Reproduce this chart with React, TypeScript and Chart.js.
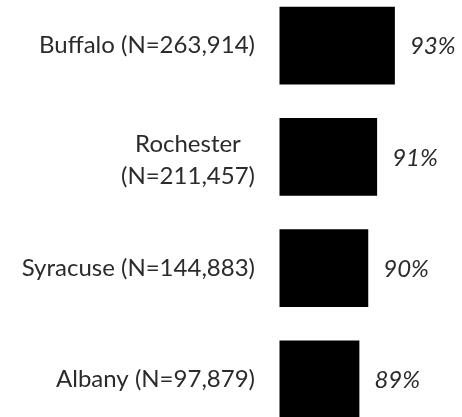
import React, { useEffect, useRef } from "react";
import { Chart, registerables } from "chart.js";

Chart.register(...registerables);

// ---- data ----
const categories: string[][] = [
  ["Buffalo (N=263,914)"],
  ["Rochester", "(N=211,457)"],
  ["Syracuse (N=144,883)"],
  ["Albany (N=97,879)"],
];
const values: number[] = [93, 91, 90, 89];
const valueLabels: string[] = ["93%", "91%", "90%", "89%"];
const axisMin = 80;
const axisMax = 100;

// ---- styles ----
const FONT_FAMILY = "Lato, 'Open Sans', sans-serif";
const FONT_SIZE = 24;
const LINE_HEIGHT = 32;
const TEXT_COLOR = "#2b2b2b";
const BAR_COLOR = "#000000";

const labelPlugin = {
  id: "customLabels",
  afterDatasetsDraw(chart: any) {
    const ctx = chart.ctx as CanvasRenderingContext2D;
    const yScale = chart.scales.y;
    const meta = chart.getDatasetMeta(0);
    ctx.save();
    ctx.fillStyle = TEXT_COLOR;
    ctx.textBaseline = "middle";
    ctx.font = `${FONT_SIZE}px ${FONT_FAMILY}`;
    const right = chart.chartArea.left - 24.5;
    categories.forEach((lines, i) => {
      const yc = yScale.getPixelForTick(i) + (lines.length > 1 ? 3 : 0);
      const widths = lines.map((l) => ctx.measureText(l).width);
      const maxW = Math.max(...widths);
      const cx = right - maxW / 2;
      ctx.textAlign = "center";
      lines.forEach((l, j) => {
        const y = yc + (j - (lines.length - 1) / 2) * LINE_HEIGHT;
        ctx.fillText(l, cx, y);
      });
    });
    ctx.font = `italic ${FONT_SIZE}px ${FONT_FAMILY}`;
    ctx.textAlign = "left";
    meta.data.forEach((bar: any, i: number) => {
      ctx.fillText(valueLabels[i], bar.x + 15, bar.y + 1);
    });
    ctx.restore();
  },
};

export default function App() {
  const canvasRef = useRef<HTMLCanvasElement | null>(null);

  useEffect(() => {
    document.body.style.margin = "0";
    const canvas = canvasRef.current;
    if (!canvas) return;
    const chart = new Chart(canvas, {
      type: "bar",
      data: {
        labels: categories.map((c) => c.join(" ")),
        datasets: [
          {
            data: values,
            backgroundColor: BAR_COLOR,
            borderWidth: 0,
            categoryPercentage: 1,
            barPercentage: 0.7,
          },
        ],
      },
      options: {
        indexAxis: "y",
        animation: false,
        responsive: false,
        layout: { padding: { left: 279.5, right: 5, top: 0, bottom: 0 } },
        plugins: { legend: { display: false }, tooltip: { enabled: false } },
        scales: {
          x: { display: false, min: axisMin, max: axisMax },
          y: { display: false },
        },
      },
      plugins: [labelPlugin],
    });
    return () => chart.destroy();
  }, []);

  return (
    <div style={{ position: "relative", width: 462, height: 417, overflow: "hidden", background: "#fff" }}>
      <canvas
        ref={canvasRef}
        width={462}
        height={445}
        style={{ position: "absolute", left: 0, top: -10, width: 462, height: 445 }}
      />
    </div>
  );
}
